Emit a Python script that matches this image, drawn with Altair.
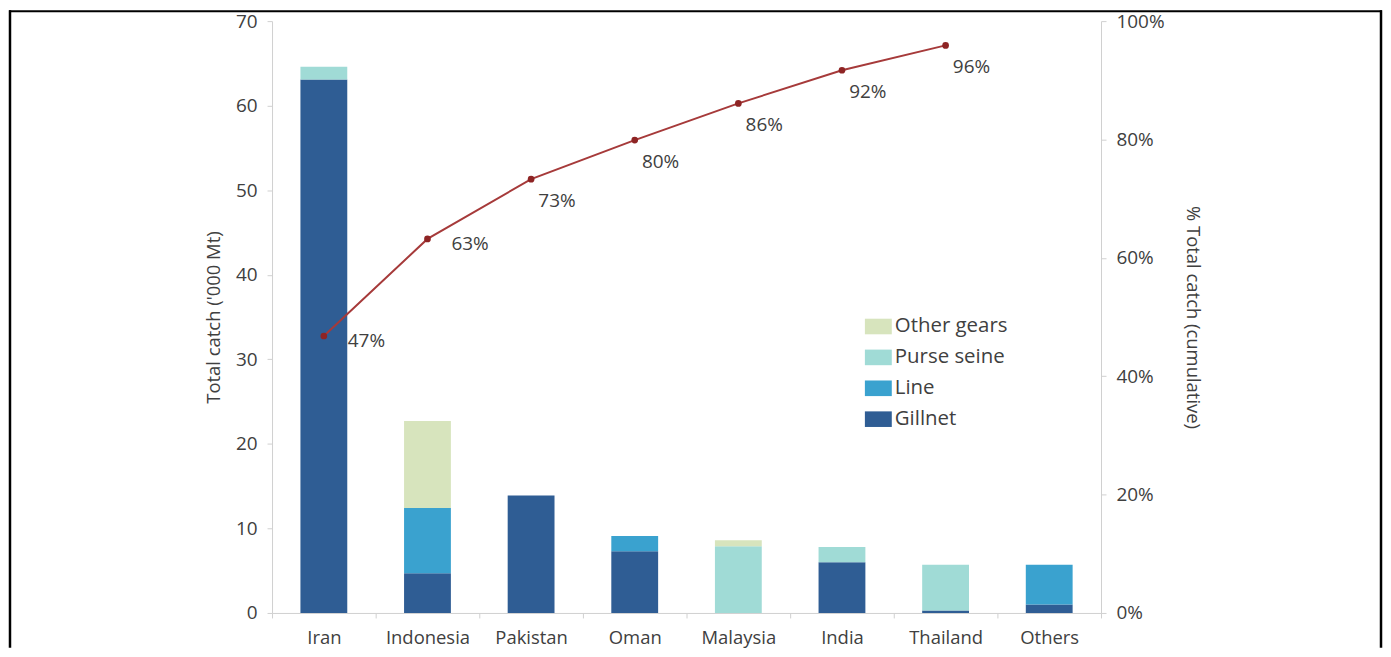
import altair as alt
import pandas as pd

countries = ["Iran", "Indonesia", "Pakistan", "Oman", "Malaysia", "India", "Thailand", "Others"]
gears = ["Other gears", "Purse seine", "Line", "Gillnet"]
gillnet = [63.1, 4.7, 13.9, 7.3, 0.0, 6.0, 0.3, 1.0]
line_gear = [0.0, 7.7, 0.0, 1.8, 0.0, 0.0, 0.0, 4.7]
purse_seine = [1.5, 0.0, 0.0, 0.0, 7.9, 1.8, 5.4, 0.0]
other_gears = [0.0, 10.3, 0.0, 0.0, 0.7, 0.0, 0.0, 0.0]
cum_countries = ["Iran", "Indonesia", "Pakistan", "Oman", "Malaysia", "India", "Thailand"]
cum_share = [0.468, 0.632, 0.733, 0.799, 0.861, 0.917, 0.959]
gear_colors = ["#d7e4bd", "#a0dbd6", "#3aa2cf", "#2f5d94"]

rows = []
for i, c in enumerate(countries):
    for g, vals, o in [("Gillnet", gillnet, 0), ("Line", line_gear, 1),
                       ("Purse seine", purse_seine, 2), ("Other gears", other_gears, 3)]:
        rows.append({"country": c, "gear": g, "value": vals[i], "ord": o})
bars_df = pd.DataFrame(rows)
cum_df = pd.DataFrame({"country": cum_countries, "share": cum_share,
                       "idx": list(range(len(cum_countries)))})

FONT = "Open Sans"
TXT = "#404040"
AX = "#d0d0d0"

x_enc = alt.X("country:N", sort=countries, title=None,
              scale=alt.Scale(paddingInner=0, paddingOuter=0),
              axis=alt.Axis(labelAngle=0, domainColor=AX, tickColor=AX, tickSize=5,
                            tickBand="extent", labelPadding=11, labelFontSize=18.5,
                            labelColor=TXT, labelFont=FONT))

bars = alt.Chart(bars_df).mark_bar(size=47).encode(
    x=x_enc,
    y=alt.Y("value:Q", stack="zero", title="Total catch ('000 Mt)",
            scale=alt.Scale(domain=[0, 70], nice=False),
            axis=alt.Axis(values=list(range(0, 71, 10)), grid=False, orient="left",
                          domainColor=AX, tickColor=AX, tickSize=5, labelPadding=10,
                          labelFontSize=19, labelColor=TXT, labelFont=FONT,
                          titleFontSize=18.5, titleFont=FONT, titleColor=TXT,
                          titleFontWeight="normal", titlePadding=12)),
    color=alt.Color("gear:N", scale=alt.Scale(domain=gears, range=gear_colors),
                    legend=alt.Legend(title=None, orient="none", legendX=595, legendY=293,
                                      symbolType="M-1,-0.58H1V0.58H-1Z", symbolSize=729,
                                      symbolStrokeWidth=0, labelFontSize=20.5,
                                      labelFont=FONT, labelColor=TXT, labelOffset=3,
                                      rowPadding=7)),
    order=alt.Order("ord:Q"),
)

y_right = alt.Y("share:Q", title="% Total catch (cumulative)",
                scale=alt.Scale(domain=[0, 1], nice=False),
                axis=alt.Axis(values=[0, 0.2, 0.4, 0.6, 0.8, 1.0], format=".0%", orient="right",
                              grid=False, domainColor=AX, tickColor=AX, tickSize=5,
                              labelPadding=10, labelFontSize=19, labelColor=TXT,
                              labelFont=FONT, titleFontSize=18.5, titleFont=FONT,
                              titleColor=TXT, titleFontWeight="normal", titlePadding=18))

base = alt.Chart(cum_df).encode(x=alt.X("country:N", sort=countries), y=y_right)
cum_line = base.mark_line(color="#a63a3a", strokeWidth=2)
cum_pts = base.mark_circle(color="#8e2424", size=45, opacity=1)
lab1 = base.transform_filter("datum.idx < 2").mark_text(
    align="left", dx=24, dy=5, fontSize=19, font=FONT, color=TXT
).encode(text=alt.Text("share:Q", format=".0%"))
lab2 = base.transform_filter("datum.idx >= 2").mark_text(
    align="center", dx=26, dy=22, fontSize=19, font=FONT, color=TXT
).encode(text=alt.Text("share:Q", format=".0%"))

right = alt.layer(cum_line, cum_pts, lab1, lab2)

one = pd.DataFrame({"k": [0]})
frame_left = alt.Chart(one).mark_rule(color="black", strokeWidth=2.5).encode(
    x=alt.value(-263), y=alt.value(-11), y2=alt.value(629))
frame_top = alt.Chart(one).mark_rule(color="black", strokeWidth=2).encode(
    x=alt.value(-264), x2=alt.value(1114), y=alt.value(-10))
frame_right = alt.Chart(one).mark_rule(color="black", strokeWidth=2.5).encode(
    x=alt.value(1113), y=alt.value(-11), y2=alt.value(629))

chart = alt.layer(bars, right, frame_left, frame_top, frame_right).resolve_scale(
    y="independent"
).properties(
    width=832, height=594,
    autosize=alt.AutoSizeParams(type="none"),
    padding={"left": 265, "top": 12, "right": 283, "bottom": 35},
).configure_view(stroke=None)

chart.save("out.html", embed_options={"renderer": "svg", "actions": False})
